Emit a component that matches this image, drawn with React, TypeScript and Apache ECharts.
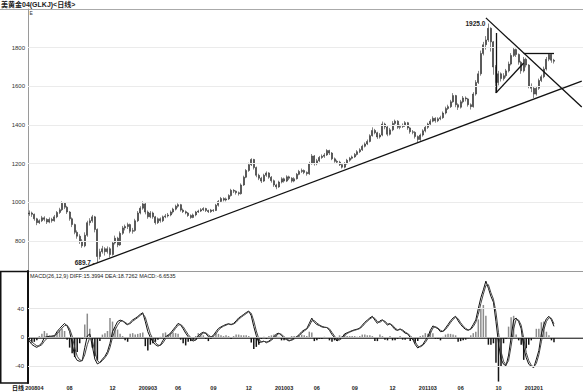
import React, { useEffect, useRef } from "react";
import * as echarts from "echarts";

// ---------- data (weekly bars) ----------
const startDate = "2008-04-25";
const firstOpen = 940;
const closes = [
  945, 938, 915, 895, 905, 920, 912, 898, 912, 905,
  925, 948, 962, 995, 975, 950, 915, 885, 845, 825,
  800, 775, 830, 895, 905, 925, 860, 720, 745, 760,
  745, 760, 730, 790, 815, 780, 840, 868, 875, 885,
  850, 855, 905, 945, 970, 992, 950, 925, 945, 925,
  895, 915, 905, 925, 930, 935, 950, 965, 980, 988,
  960, 952, 945, 932, 922, 935, 950, 955, 962, 968,
  958, 952, 960, 958, 985, 1005, 1020, 1012, 1018, 1035,
  1062, 1058, 1050, 1045, 1090, 1130, 1165, 1195, 1222, 1180,
  1140, 1125, 1110, 1140, 1152, 1130, 1112, 1090, 1080, 1105,
  1122, 1110, 1132, 1125, 1110, 1122, 1145, 1160, 1165, 1155,
  1148, 1200, 1240, 1200, 1215, 1232, 1238, 1245, 1268, 1255,
  1225, 1212, 1208, 1195, 1182, 1200, 1218, 1228, 1235, 1248,
  1262, 1272, 1290, 1302, 1315, 1345, 1372, 1360, 1338, 1348,
  1405, 1390, 1352, 1375, 1408, 1420, 1388, 1392, 1398, 1412,
  1385, 1365, 1362, 1340, 1325, 1348, 1370, 1388, 1405, 1420,
  1435, 1422, 1432, 1438, 1462, 1485, 1495, 1520, 1552, 1505,
  1492, 1520, 1540, 1535, 1505, 1495, 1560, 1620, 1665, 1770,
  1815, 1840, 1900, 1830, 1700, 1620, 1665, 1640, 1655, 1680,
  1715, 1760, 1790, 1765, 1725, 1680, 1740, 1710, 1600, 1590,
  1560, 1590, 1630, 1650, 1690, 1740, 1765, 1735, 1730,
];
const highs = [
  958, 952, 942, 920, 912, 930, 928, 918, 922, 920,
  935, 955, 972, 1005, 1002, 982, 955, 922, 890, 855,
  835, 810, 845, 905, 918, 935, 930, 865, 760, 775,
  768, 772, 768, 800, 828, 822, 850, 878, 885, 895,
  890, 868, 915, 955, 980, 1005, 998, 958, 955, 952,
  930, 922, 922, 932, 940, 945, 958, 972, 988, 995,
  992, 968, 958, 950, 938, 942, 956, 962, 970, 975,
  972, 962, 966, 965, 992, 1012, 1028, 1026, 1025, 1042,
  1070, 1068, 1062, 1056, 1098, 1138, 1172, 1205, 1228, 1225,
  1185, 1148, 1132, 1148, 1160, 1156, 1136, 1118, 1096, 1112,
  1130, 1128, 1140, 1138, 1130, 1130, 1152, 1168, 1175, 1170,
  1160, 1210, 1250, 1245, 1225, 1240, 1248, 1255, 1275, 1272,
  1260, 1232, 1220, 1215, 1200, 1208, 1225, 1235, 1242, 1255,
  1270, 1280, 1298, 1310, 1325, 1352, 1388, 1380, 1365, 1358,
  1418, 1412, 1396, 1385, 1420, 1428, 1425, 1402, 1408, 1420,
  1416, 1390, 1374, 1368, 1346, 1356, 1378, 1396, 1412, 1430,
  1445, 1440, 1440, 1448, 1470, 1495, 1505, 1530, 1565, 1556,
  1512, 1530, 1550, 1548, 1540, 1512, 1570, 1632, 1680, 1785,
  1830, 1860, 1925, 1905, 1835, 1710, 1680, 1672, 1668, 1690,
  1728, 1772, 1802, 1795, 1770, 1732, 1752, 1748, 1715, 1615,
  1598, 1602, 1640, 1660, 1702, 1752, 1770, 1768, 1742,
];
const lows = [
  930, 925, 905, 882, 888, 898, 902, 888, 892, 895,
  900, 918, 940, 955, 965, 940, 905, 872, 835, 812,
  785, 765, 768, 822, 880, 895, 845, 690, 705, 735,
  725, 735, 715, 725, 782, 768, 775, 832, 855, 862,
  840, 838, 848, 898, 938, 962, 938, 915, 918, 915,
  885, 888, 895, 898, 918, 922, 928, 942, 958, 972,
  952, 945, 938, 925, 915, 918, 928, 945, 950, 955,
  950, 945, 946, 950, 955, 978, 998, 1005, 1005, 1012,
  1030, 1048, 1040, 1035, 1040, 1085, 1125, 1158, 1188, 1170,
  1130, 1115, 1100, 1105, 1132, 1122, 1102, 1080, 1068, 1075,
  1098, 1102, 1105, 1115, 1102, 1104, 1118, 1140, 1152, 1146,
  1138, 1142, 1195, 1190, 1192, 1208, 1225, 1230, 1240, 1245,
  1218, 1205, 1198, 1188, 1175, 1176, 1195, 1210, 1222, 1230,
  1242, 1255, 1266, 1284, 1296, 1310, 1340, 1352, 1328, 1330,
  1342, 1378, 1342, 1346, 1368, 1400, 1380, 1378, 1385, 1390,
  1375, 1355, 1352, 1330, 1312, 1318, 1340, 1362, 1380, 1398,
  1414, 1412, 1415, 1425, 1432, 1455, 1478, 1488, 1515, 1492,
  1478, 1485, 1512, 1522, 1495, 1480, 1490, 1552, 1612, 1655,
  1760, 1790, 1830, 1780, 1660, 1565, 1605, 1625, 1630, 1645,
  1672, 1708, 1752, 1752, 1712, 1665, 1672, 1698, 1590, 1570,
  1540, 1552, 1582, 1622, 1642, 1682, 1730, 1722, 1718,
];
const diffs = [
  -5, -9.5, -12, -13.7, -11, -7.3, 0, 1, 1.5, 2,
  2.4, 8, 12.2, 16, 19.5, 16, 8, -8, -26, -31.7,
  -33, -32, -14, 2, 4.9, -12, -30, -36.6, -34.5, -30,
  -26, -19.5, -8, 8, 15, 22, 24, 23, 19.5, 17.5,
  21, 24.4, 26.5, 29, 32, 34.2, 22, 8, 0, -6,
  -10, -12, -10.5, -4, 1, 3, 6, 10.5, 15, 19.5,
  17.5, 12, 6, 1, -3, -4.9, -3, 2.5, 5.5, 7.3,
  5.5, 1, 0.5, 3, 8, 12.5, 14.6, 16.5, 18, 19,
  17.5, 19.5, 23, 27, 29.3, 32, 34.5, 36.6, 30, 15,
  2.4, -7.3, -6, -5, -7.3, -5, -2.4, 1, 5, 6,
  2.4, -1, -3, -4.9, -3, -1, 1, 4, 8, 10.5,
  12.2, 19.5, 26.8, 21, 18, 16.5, 14.6, 14, 13.7, 10,
  4, 0, -4.9, -2, 0, 4.9, 6.5, 8, 9.5, 10.7,
  11.5, 13, 17, 21, 24, 27, 29.3, 24, 19.5, 23,
  24.4, 21, 17, 19.5, 15, 11, 9.8, 12, 9, 6,
  4.9, 0, -2.4, -9.8, -14.6, -12, -9.8, -4, 1, 10,
  16, 14, 12.2, 8, 8.5, 13, 18, 23, 27, 29.3,
  23, 18, 14, 11, 10, 12.2, 18, 24.4, 40, 55,
  66, 78, 68, 57, 48.8, 22, -8, -30, -37, -39,
  -24.4, 0, 24.4, 26.8, 22, 12, -14.6, -28, -37, -40,
  -41.5, -30, -18, 4.9, 18, 26, 29.3, 24.4, 15.4,
];
const deas = [
  -3, -6, -9, -11.5, -12, -10, -5, -1.5, 0.5, 1.5,
  2, 5, 9, 13, 16.5, 17, 12, 2, -14, -26,
  -31, -32, -24, -10, 0, -4, -20, -32, -35, -32,
  -28, -23, -14, 0, 10, 17, 22, 23, 21, 18.5,
  19, 22.5, 25, 27.5, 30.5, 33, 28, 16, 5, -2,
  -7, -10.5, -11, -7.5, -2, 1.5, 4.5, 8, 12.5, 17,
  18, 15, 9.5, 4, 0, -3.5, -3.8, -0.5, 3.5, 6,
  6.5, 3.5, 1, 2, 5, 10, 13.5, 15.5, 17, 18.5,
  18.3, 18.6, 21, 25, 28, 30.5, 33, 35.5, 33.5, 23,
  9, -2, -6.5, -5.5, -6, -6, -3.8, -0.8, 3, 5.5,
  4.5, 1, -1.8, -4, -4, -2, 0, 2.5, 6, 9,
  11.5, 16, 23, 23.5, 20, 17.5, 15.5, 14.3, 13.8, 12,
  7, 2, -2.5, -3.5, -1, 2.5, 5.5, 7.3, 8.8, 10,
  11, 12.3, 15, 19, 22.5, 25.5, 28, 26.5, 22, 21,
  23.5, 22.5, 19, 18.5, 17, 13, 10.5, 11, 10.5, 7.5,
  5.5, 2.5, -1, -6, -12, -13, -11, -7, -1.5, 5.5,
  13, 15, 13, 10, 8.3, 11, 15.5, 20.5, 25, 28,
  26, 20.5, 16, 12.5, 10.5, 11, 15, 21, 32, 47,
  60, 72, 73, 62, 53, 35, 7, -19, -33, -38,
  -32, -12, 12, 25, 24, 17, -1, -21, -32, -38.5,
  -41, -36, -24, -6, 11, 22, 27.5, 26.5, 18.7,
];
const macdBars = [
  -4, -7, -6, -4, 2, 5, 9, 6, 3, 2,
  3, 8, 10, 12, 9, -3, -14, -22, -27, -20,
  -8, -2, 18, 33, 12, -14, -26, -32, -5, 4,
  6, 9, 27, 22, 14, 11, 5, 2, -4, -6,
  5, 6, 4, 5, 6, 7, -12, -18, -10, -8,
  -6, -3, 1, 6, 7, 4, 6, 7, 6, 5,
  -3, -8, -11, -6, -5, -3, 2, 6, 5, 3,
  -2, -5, -2, 2, 6, 5, 3, 2, 3, 2,
  -2, 2, 4, 4, 3, 3, 3, 2, -7, -16,
  -13, -10, -2, 1, -2, 2, 3, 4, 4, 1,
  -4, -4, -2, -1, 2, 2, 2, 3, 4, 3,
  2, 8, 7, -5, -4, -2, -2, 1, 0, -4,
  -6, -4, -5, 3, 2, 5, 2, 2, 2, 2,
  1, 2, 4, 4, 3, 3, 2, -5, -5, 4,
  2, -3, -4, 2, -4, -4, -2, 2, -3, -3,
  -1, -5, -3, -8, -5, 2, 3, 6, 5, 9,
  6, -2, -2, -4, 1, 4, 5, 5, 4, 3,
  -6, -5, -4, -3, -1, 3, 6, 8, 25, 40,
  45, 30, -10, -10, -8, -35, -61, -40, -8, -2,
  15, 28, 30, 4, -4, -10, -31, -15, -10, -4,
  -1, 12, 12, 21, 22, 8, 3, -4, -6.65,
];

const totalSlots = 220;
const tickIndex = [2, 16, 33, 47, 59, 73, 87, 101, 114, 129, 144, 158, 171, 186, 200];
const tickLabels = ["200804", "08", "12", "200903", "06", "09", "12", "201003", "06", "09", "12", "201103", "06", "10", "201201"];
const priceTicks = [800, 1000, 1200, 1400, 1600, 1800];
const macdTicks = [-40, 0, 40];
const peakMark = { index: 182, value: 1925.0, text: "1925.0" };
const lowMark = { index: 27, value: 689.7, text: "689.7 ‒" };
// drawn trend lines: [category index, price] pairs
const trendLines = [
  [[20, 653], [219, 1627]],
  [[181, 1954], [219, 1493]],
  [[196, 1773], [208, 1773]],
  [[185, 1876], [185, 1566]],
  [[185, 1566], [196, 1721]],
];
const headerText = "美黄金04(GLKJ)<日线>";
const macdHeader = "MACD(26,12,9) DIFF:15.3994 DEA:18.7262 MACD:-6.6535";

const FONT = "'Liberation Sans', 'Noto Sans CJK SC', sans-serif";

function buildCategories(): string[] {
  const out: string[] = [];
  const d = new Date(startDate + "T00:00:00Z");
  for (let i = 0; i < totalSlots; i++) {
    const t = new Date(d.getTime() + i * 7 * 86400000);
    out.push(t.toISOString().slice(0, 10));
  }
  return out;
}

export default function App() {
  const ref = useRef<HTMLDivElement>(null);

  useEffect(() => {
    if (!ref.current) return;
    const chart = echarts.init(ref.current, undefined, { renderer: "svg" });
    const cats = buildCategories();
    const candles = closes.map((c, i) => [i === 0 ? firstOpen : closes[i - 1], c, lows[i], highs[i]]);
    const barData = macdBars.map((v) => ({
      value: v,
      itemStyle: { color: v >= 0 ? "#8c8c8c" : "#151515" },
    }));

    const labelFor = (idx: number) => {
      const k = tickIndex.indexOf(idx);
      return k >= 0 ? tickLabels[k] : "";
    };

    const option: any = {
      animation: false,
      backgroundColor: "#ffffff",
      textStyle: { fontFamily: FONT },
      grid: [
        { left: 28, right: 0, top: 9, height: 262 },
        { left: 28, right: 0, top: 271, height: 112 },
      ],
      xAxis: [
        {
          type: "category",
          gridIndex: 0,
          data: cats,
          boundaryGap: true,
          axisLine: { show: false },
          axisTick: { show: false },
          axisLabel: { show: false },
          splitLine: { show: false },
        },
        {
          type: "category",
          gridIndex: 1,
          data: cats,
          boundaryGap: true,
          axisLine: { show: true, lineStyle: { color: "#111", width: 1.5 } },
          axisTick: { show: false },
          axisLabel: {
            interval: (idx: number) => tickIndex.indexOf(idx) >= 0,
            formatter: (_v: string, idx: number) => labelFor(idx),
            fontSize: 5.5,
            fontWeight: "bold",
            color: "#222",
            margin: 2,
            fontFamily: FONT,
          },
          splitLine: { show: false },
        },
      ],
      yAxis: [
        {
          type: "value",
          gridIndex: 0,
          min: 645,
          max: 2000,
          splitNumber: 7,
          axisLine: { show: true, lineStyle: { color: "#9a9a9a", width: 1 } },
          axisTick: { show: false },
          axisLabel: {
            customValues: priceTicks,
            formatter: (v: number) => String(v),
            fontSize: 6,
            color: "#333",
            margin: 3,
            fontFamily: FONT,
          },
          splitLine: { show: false },
        },
        {
          type: "value",
          gridIndex: 1,
          min: -63,
          max: 92,
          axisLine: { show: true, lineStyle: { color: "#111", width: 2 } },
          axisTick: { show: false },
          axisLabel: {
            customValues: macdTicks,
            formatter: (v: number) => String(v),
            fontSize: 6,
            color: "#333",
            margin: 4,
            fontFamily: FONT,
          },
          splitLine: { show: false },
        },
      ],
      series: [
        {
          type: "candlestick",
          xAxisIndex: 0,
          yAxisIndex: 0,
          data: candles,
          barWidth: 1.5,
          itemStyle: {
            color: "#333",
            color0: "#333",
            borderColor: "#333",
            borderColor0: "#333",
            borderWidth: 0.6,
          },
          markLine: {
            silent: true,
            symbol: ["none", "none"],
            label: { show: false },
            data: [
              ...priceTicks.map((v) => ({
                yAxis: v,
                lineStyle: { color: "#ebebeb", width: 1, type: "solid" },
              })),
              ...trendLines.map((seg) => [
                { coord: seg[0], lineStyle: { color: "#111", width: 1.3, type: "solid" } },
                { coord: seg[1] },
              ]),
            ],
          },
          markPoint: {
            silent: true,
            symbol: "circle",
            symbolSize: 0,
            data: [
              {
                coord: [peakMark.index, peakMark.value],
                label: {
                  show: true,
                  position: "left",
                  distance: 3,
                  formatter: peakMark.text,
                  fontSize: 6.5,
                  fontWeight: "bold",
                  color: "#222",
                },
              },
              {
                coord: [lowMark.index, lowMark.value],
                label: {
                  show: true,
                  position: "left",
                  distance: 1,
                  formatter: lowMark.text,
                  fontSize: 6.5,
                  fontWeight: "bold",
                  color: "#222",
                },
              },
            ],
          },
          z: 3,
        },
        {
          type: "bar",
          name: "MACD",
          xAxisIndex: 1,
          yAxisIndex: 1,
          data: barData,
          barWidth: 1.5,
          markLine: {
            silent: true,
            symbol: ["none", "none"],
            label: { show: false },
            data: macdTicks.map((v) => ({
              yAxis: v,
              lineStyle: { color: v === 0 ? "#b5b5b5" : "#e6e6e6", width: 1, type: "solid" },
            })),
          },
        },
        {
          type: "line",
          name: "DIFF",
          xAxisIndex: 1,
          yAxisIndex: 1,
          data: diffs,
          showSymbol: false,
          symbol: "none",
          lineStyle: { color: "#111", width: 1 },
          z: 4,
        },
        {
          type: "line",
          name: "DEA",
          xAxisIndex: 1,
          yAxisIndex: 1,
          data: deas,
          showSymbol: false,
          symbol: "none",
          lineStyle: { color: "#444", width: 1 },
          z: 4,
        },
      ],
      graphic: [
        {
          type: "text",
          x: 1,
          y: 1,
          style: { text: headerText, fontSize: 7, fontWeight: "bold", fill: "#222", fontFamily: FONT },
        },
        { type: "line", shape: { x1: 0, y1: 9.5, x2: 583, y2: 9.5 }, style: { stroke: "#aaaaaa", lineWidth: 1 } },
        { type: "line", shape: { x1: 0, y1: 271.5, x2: 583, y2: 271.5 }, style: { stroke: "#9a9a9a", lineWidth: 1 } },
        {
          type: "rect",
          shape: { x: 0.75, y: 271.5, width: 27.25, height: 111.5 },
          style: { fill: "none", stroke: "#111", lineWidth: 1.5 },
        },
        {
          type: "text",
          x: 29.5,
          y: 10.5,
          style: { text: "E", fontSize: 5, fill: "#333", fontFamily: FONT },
        },
        {
          type: "text",
          x: 30,
          y: 273.5,
          style: { text: macdHeader, fontSize: 5.5, fill: "#222", fontFamily: FONT },
        },
        {
          type: "text",
          x: 12,
          y: 385,
          style: { text: "日线", fontSize: 6, fontWeight: "bold", fill: "#111", fontFamily: FONT },
        },
      ],
    };

    chart.setOption(option);
    return () => chart.dispose();
  }, []);

  return <div ref={ref} style={{ position: "fixed", left: 0, top: 0, width: 583, height: 392 }} />;
}
